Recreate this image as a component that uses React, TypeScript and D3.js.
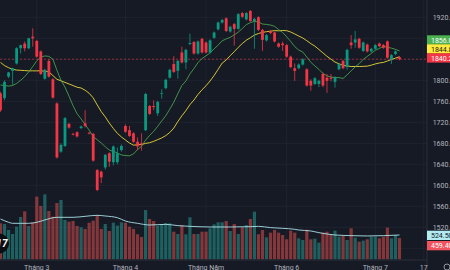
import * as d3 from "d3";

const W = 450;
const H = 270;

// daily candles, oldest first
const opens = [
  1775, 1766, 1807, 1818, 1832, 1861, 1870, 1861, 1883, 1875,
  1855, 1803, 1837, 1802, 1756, 1664, 1675, 1717, 1698, 1701,
  1709, 1718, 1700, 1698, 1629, 1626, 1634, 1661, 1644, 1644,
  1667, 1713, 1705, 1699, 1683, 1680, 1705, 1751, 1751, 1737,
  1775, 1785, 1805, 1831, 1818, 1853, 1834, 1869, 1873, 1851,
  1879, 1872, 1853, 1881, 1897, 1910, 1918, 1893, 1907, 1898,
  1928, 1916, 1932, 1913, 1920, 1896, 1876, 1893, 1891, 1870,
  1870, 1867, 1845, 1823, 1823, 1830, 1821, 1799, 1793, 1793,
  1812, 1805, 1805, 1797, 1821, 1837, 1825, 1872, 1872, 1879,
  1856, 1868, 1855, 1860, 1870, 1867, 1874, 1840, 1850, 1844,
];
const highs = [
  1778, 1800, 1816, 1824, 1863, 1868, 1874, 1881, 1899, 1877,
  1857, 1822, 1840, 1804, 1758, 1680, 1730, 1719, 1700, 1703,
  1714, 1743, 1702, 1700, 1631, 1628, 1660, 1663, 1676, 1672,
  1678, 1716, 1713, 1701, 1691, 1699, 1776, 1753, 1762, 1761,
  1783, 1803, 1822, 1846, 1839, 1864, 1860, 1889, 1875, 1876,
  1881, 1874, 1878, 1893, 1912, 1917, 1920, 1904, 1909, 1928,
  1930, 1930, 1934, 1919, 1922, 1898, 1888, 1896, 1893, 1872,
  1874, 1869, 1847, 1832, 1832, 1842, 1823, 1802, 1806, 1801,
  1815, 1812, 1812, 1808, 1833, 1839, 1860, 1886, 1894, 1881,
  1874, 1870, 1862, 1869, 1872, 1869, 1876, 1850, 1857, 1846,
];
const lows = [
  1740, 1762, 1804, 1791, 1830, 1851, 1855, 1859, 1864, 1843,
  1810, 1801, 1805, 1765, 1651, 1662, 1673, 1708, 1695, 1691,
  1707, 1710, 1697, 1645, 1589, 1604, 1630, 1635, 1638, 1640,
  1664, 1700, 1692, 1681, 1667, 1666, 1703, 1734, 1743, 1732,
  1765, 1783, 1803, 1814, 1803, 1832, 1821, 1867, 1849, 1849,
  1851, 1851, 1851, 1879, 1895, 1908, 1892, 1891, 1866, 1896,
  1919, 1914, 1911, 1860, 1894, 1856, 1874, 1888, 1872, 1862,
  1856, 1843, 1823, 1799, 1821, 1828, 1788, 1780, 1791, 1787,
  1787, 1776, 1798, 1786, 1819, 1821, 1820, 1860, 1862, 1860,
  1854, 1853, 1853, 1858, 1863, 1860, 1841, 1831, 1848, 1838,
];
const closes = [
  1743, 1797, 1815, 1823, 1861, 1867, 1861, 1880, 1880, 1845,
  1812, 1820, 1807, 1767, 1653, 1677, 1728, 1710, 1697, 1693,
  1712, 1713, 1699, 1647, 1591, 1615, 1658, 1645, 1674, 1661,
  1675, 1702, 1694, 1683, 1674, 1678, 1774, 1736, 1749, 1759,
  1776, 1801, 1820, 1816, 1837, 1834, 1858, 1871, 1851, 1874,
  1853, 1853, 1876, 1891, 1910, 1915, 1894, 1902, 1898, 1926,
  1921, 1928, 1913, 1917, 1896, 1877, 1886, 1890, 1874, 1864,
  1867, 1845, 1825, 1818, 1830, 1840, 1790, 1790, 1804, 1799,
  1790, 1799, 1803, 1806, 1831, 1823, 1858, 1867, 1878, 1862,
  1872, 1855, 1860, 1867, 1865, 1862, 1843, 1848, 1855, 1840.2,
];
const volumes = [
  777, 763, 633, 547, 705, 914, 1036, 720, 799, 1353,
  1151, 1403, 1043, 921, 1216, 1281, 849, 813, 827, 720,
  691, 655, 791, 835, 957, 655, 763, 612, 791, 727,
  799, 791, 705, 655, 540, 482, 1065, 871, 827, 727,
  755, 784, 777, 597, 547, 734, 540, 907, 547, 547,
  597, 597, 669, 755, 799, 799, 827, 612, 763, 547,
  691, 741, 871, 1029, 540, 633, 475, 576, 633, 576,
  525, 432, 619, 576, 453, 417, 640, 432, 446, 360,
  576, 597, 540, 619, 489, 504, 417, 669, 468, 381,
  403, 432, 489, 489, 453, 489, 684, 453, 525, 459.4,
];
// MA 10 of close
const ma10 = [
  1791, 1790, 1789, 1790, 1794, 1800, 1807, 1816, 1826, 1837.2,
  1844.1, 1846.4, 1845.6, 1840.0, 1819.2, 1800.2, 1786.9, 1769.9, 1751.6, 1736.4,
  1726.4, 1715.7, 1704.9, 1692.9, 1686.7, 1680.5, 1673.5, 1667.0, 1664.7, 1661.5,
  1657.8, 1656.7, 1656.2, 1659.8, 1668.1, 1674.4, 1686.0, 1695.1, 1702.6, 1712.4,
  1722.5, 1732.4, 1745.0, 1758.3, 1774.6, 1790.2, 1798.6, 1812.1, 1822.3, 1833.8,
  1841.5, 1846.7, 1852.3, 1859.8, 1867.1, 1875.2, 1878.8, 1881.9, 1886.6, 1891.8,
  1898.6, 1906.1, 1909.8, 1912.4, 1911.0, 1907.2, 1906.4, 1905.2, 1902.8, 1896.6,
  1891.2, 1882.9, 1874.1, 1864.2, 1857.6, 1853.9, 1844.3, 1834.3, 1827.3, 1820.8,
  1813.1, 1808.5, 1806.3, 1805.1, 1805.2, 1803.5, 1810.3, 1818.0, 1825.4, 1831.7,
  1839.9, 1845.5, 1851.2, 1857.3, 1860.7, 1864.6, 1863.1, 1861.2, 1858.9, 1856.0,
];
// MA 20 of close
const ma20 = [
  1834, 1828, 1824, 1821, 1819.5, 1819, 1818.5, 1818, 1818, 1818,
  1818, 1817.5, 1816, 1809, 1802, 1799, 1796, 1793, 1790, 1786.8,
  1785.3, 1781.1, 1775.3, 1766.5, 1753.0, 1740.4, 1730.2, 1718.5, 1708.2, 1699.0,
  1692.1, 1686.2, 1680.6, 1676.4, 1677.4, 1677.5, 1679.8, 1681.1, 1683.7, 1687.0,
  1690.2, 1694.6, 1700.6, 1709.1, 1721.4, 1732.3, 1742.3, 1753.6, 1762.5, 1773.1,
  1782.0, 1789.6, 1798.7, 1809.1, 1820.9, 1832.7, 1838.7, 1847.0, 1854.5, 1862.8,
  1870.1, 1876.4, 1881.1, 1886.1, 1889.1, 1891.2, 1892.6, 1893.6, 1894.7, 1894.2,
  1894.9, 1894.5, 1892.0, 1888.3, 1884.3, 1880.6, 1875.4, 1869.8, 1865.1, 1858.7,
  1852.2, 1845.7, 1840.2, 1834.7, 1831.4, 1828.7, 1827.3, 1826.2, 1826.4, 1826.3,
  1826.5, 1827.0, 1828.8, 1831.2, 1833.0, 1834.1, 1836.7, 1839.6, 1842.2, 1844.8,
];
// volume average, sampled at these bars
const volMaIdx = [0, 2, 3, 5, 7, 9, 11, 14, 18, 21, 24, 26, 29, 31, 34, 37, 41, 44, 47, 52, 57, 62, 64, 67, 70, 73, 74, 77, 79, 83, 87, 91, 95, 99];
const volMa = [871, 800, 777, 777, 777, 799, 850, 907, 907, 928, 950, 935, 899, 827, 777, 741, 755, 727, 712, 698, 698, 705, 712, 684, 669, 648, 633, 612, 576, 525, 511, 504, 511, 524.5];

const priceTicks = [1920, 1880, 1840, 1800, 1760, 1720, 1680, 1640, 1600, 1560, 1520, 1480];
const timeLabels = ["Tháng 3", "Tháng 4", "Tháng Năm", "Tháng 6", "Tháng 7", "17"];
const timeIdx = [9, 31, 51, 71, 93, 105];

const BG = "#161a25";
const GRID = "#1f2330";
const UP = "#089981";
const DOWN = "#f23645";
const TXT = "#b2b5be";
const FONT = "Roboto, 'Noto Sans', sans-serif";

export default function App() {
  const paneRight = 427;
  const x = d3.scaleLinear().domain([0, 99]).range([0.5, 399.5]);
  const y = d3.scaleLinear().domain([1480, 1920]).range([248.3, 17.3]);
  const yv = d3.scaleLinear().domain([0, 1000]).range([259.3, 213]);

  const line = d3.line<number>().x((_, i) => x(i)).y((d) => y(d));
  const volLine = d3
    .line<number>()
    .x((_, i) => x(volMaIdx[i]))
    .y((d) => yv(d))
    .curve(d3.curveMonotoneX);

  const last = closes[closes.length - 1];
  const lastVol = volumes[volumes.length - 1];
  const lastVolMa = volMa[volMa.length - 1];

  // right-axis value tags, stacked so they do not overlap
  const tags = [
    { top: 35.3, bg: "#4caf50", fg: "#ffffff", txt: ma10[ma10.length - 1].toFixed(2) },
    { top: 44.3, bg: "#ffeb3b", fg: "#131722", txt: ma20[ma20.length - 1].toFixed(2) },
    { top: 53.3, bg: DOWN, fg: "#ffffff", txt: last.toFixed(2) },
    { top: 230.7, bg: "#b2ebf2", fg: "#131722", txt: lastVolMa.toFixed(2) },
    { top: 241, bg: "#f0535e", fg: "#ffffff", txt: lastVol.toFixed(2) },
  ];
  // tick labels hidden behind a tag are skipped
  const freeTicks = priceTicks.filter(
    (p) => !tags.some((t) => y(p) > t.top - 3 && y(p) < t.top + 12.3)
  );

  return (
    <svg
      width={W}
      height={H}
      style={{ position: "fixed", left: 0, top: 0, display: "block", background: BG }}
      fontFamily={FONT}
    >
      <rect width={W} height={H} fill={BG} />

      {/* grid */}
      {priceTicks.map((p) => (
        <line key={"h" + p} x1={0} x2={paneRight} y1={y(p)} y2={y(p)} stroke={GRID} strokeWidth={1} />
      ))}
      {timeIdx.map((t) => (
        <line key={"v" + t} x1={x(t)} x2={x(t)} y1={0} y2={260} stroke={GRID} strokeWidth={1} />
      ))}

      {/* volume */}
      {volumes.map((v, i) => (
        <rect
          key={"vol" + i}
          x={x(i) - 1.6}
          y={yv(v)}
          width={3.2}
          height={yv(0) - yv(v)}
          fill={closes[i] >= opens[i] ? "rgba(38,166,154,0.5)" : "rgba(239,83,80,0.5)"}
        />
      ))}
      <path d={volLine(volMa) ?? ""} fill="none" stroke="#b2ebf2" strokeWidth={1} opacity={0.85} />

      {/* last price line */}
      <line x1={0} x2={paneRight} y1={y(last)} y2={y(last)} stroke={DOWN} strokeOpacity={0.55} strokeDasharray="2 2" />

      {/* moving averages */}
      <path d={line(ma20) ?? ""} fill="none" stroke="#ffeb3b" strokeWidth={0.9} opacity={0.9} />
      <path d={line(ma10) ?? ""} fill="none" stroke="#4caf50" strokeWidth={0.9} opacity={0.9} />

      {/* candles */}
      {opens.map((o, i) => {
        const c = closes[i];
        const col = c >= o ? UP : DOWN;
        const top = y(Math.max(o, c));
        const h = Math.max(0.8, Math.abs(y(o) - y(c)));
        return (
          <g key={"c" + i}>
            <line x1={x(i)} x2={x(i)} y1={y(highs[i])} y2={y(lows[i])} stroke={col} strokeWidth={0.8} />
            <rect x={x(i) - 1.4} y={top} width={2.8} height={h} fill={col} />
          </g>
        );
      })}

      {/* logo */}
      <circle cx={-1} cy={243.5} r={10} fill="#0c0e14" />
      <text x={7.5} y={247} textAnchor="end" fontSize={10} fontWeight={700} fontStyle="italic" fill="#ffffff">
        17
      </text>

      {/* axes */}
      <line x1={paneRight} x2={paneRight} y1={0} y2={H} stroke="#2a2e39" strokeWidth={1} />
      <line x1={0} x2={paneRight} y1={260} y2={260} stroke="#2a2e39" strokeWidth={1} />
      {freeTicks.map((p) => (
        <text key={"pt" + p} x={432.7} y={y(p)} dy="0.35em" fontSize={7} fill={TXT}>
          {p.toFixed(2)}
        </text>
      ))}
      {timeLabels.map((t, i) => (
        <text key={"tl" + t} x={x(timeIdx[i])} y={269.5} textAnchor="middle" fontSize={7} fill={TXT}>
          {t}
        </text>
      ))}
      <circle cx={447} cy={267} r={3} fill="none" stroke={TXT} strokeWidth={0.8} />

      {tags.map((t, i) => (
        <g key={"tag" + i}>
          <rect x={paneRight} y={t.top} width={W - paneRight} height={9.3} fill={t.bg} />
          <text x={431} y={t.top + 4.8} dy="0.35em" fontSize={7} fill={t.fg}>
            {t.txt}
          </text>
        </g>
      ))}
    </svg>
  );
}
